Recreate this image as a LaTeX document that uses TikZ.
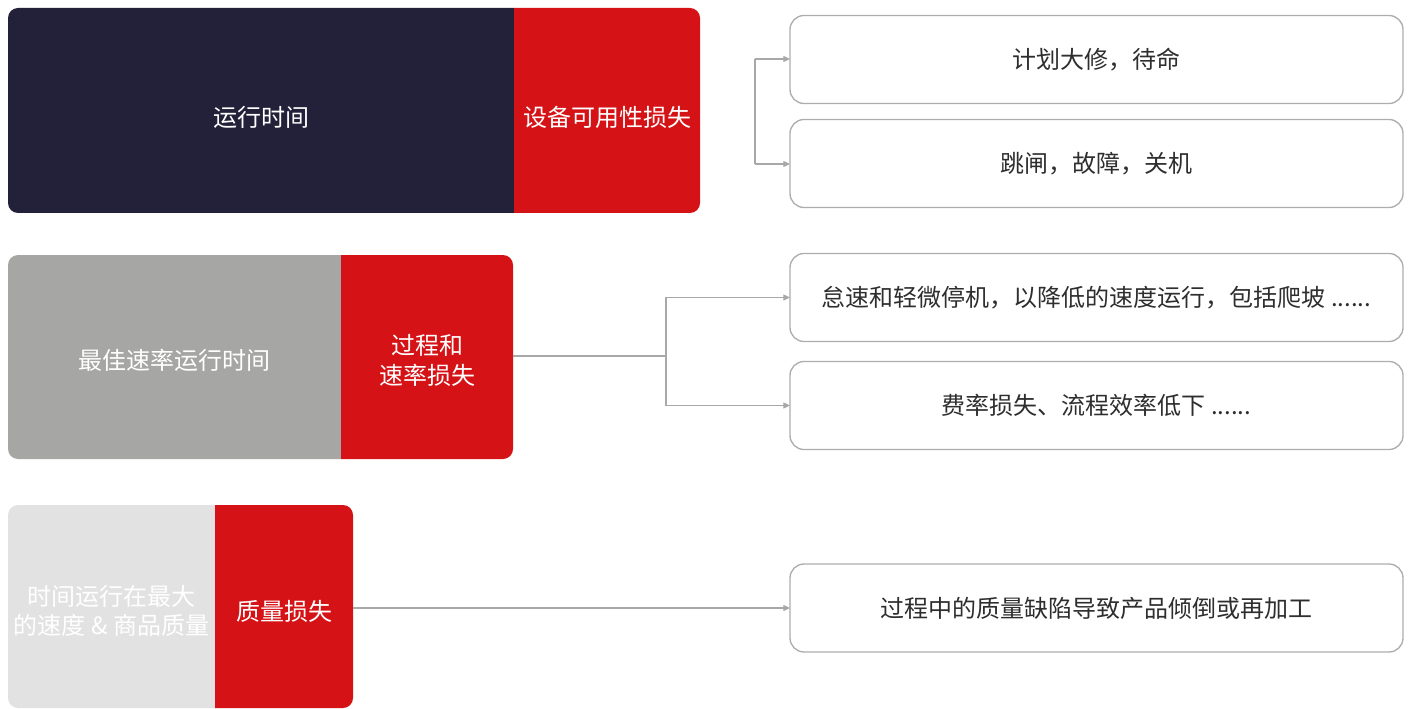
\documentclass[tikz,border=0pt]{standalone}
\usepackage{fontspec}
\setmainfont{Noto Sans CJK SC}
\usetikzlibrary{arrows.meta,calc}
\definecolor{darkbg}{HTML}{23203A}
\definecolor{lossred}{HTML}{D51317}
\definecolor{midgray}{HTML}{A6A6A5}
\definecolor{lightgray}{HTML}{E2E2E2}
\definecolor{boxline}{HTML}{ADADAD}
\definecolor{conncol}{HTML}{A8A8A8}
\definecolor{txt}{HTML}{2E2E2E}
\tikzset{
  lbl/.style={inner sep=0pt, outer sep=0pt, align=center, text=white,
    font=\fontsize{18}{22}\selectfont},
  item/.style={draw=boxline, line width=1pt, rounded corners=10.5pt, fill=white,
    minimum width=459.75pt, minimum height=66pt, inner sep=0pt, outer sep=0pt,
    text=txt, font=\fontsize{18}{22}\selectfont},
  conn/.style={draw=conncol, line width=0.9pt},
  arrow/.style={conn, -{Triangle[length=5pt,width=4.5pt]}},
}
\begin{document}
\begin{tikzpicture}[x=0.75pt,y=-0.75pt]
\useasboundingbox (0,0) rectangle (1412,709);
% ---------- row 1 ----------
\fill[darkbg] (514,213) -- (514,8) [rounded corners=7.5pt] -- (8,8) -- (8,213) [sharp corners] -- cycle;
\fill[lossred] (514,8) [rounded corners=7.5pt] -- (700,8) -- (700,213) [sharp corners] -- (514,213) -- cycle;
\node[lbl, minimum width=379.5pt, minimum height=153.75pt] (run1) at (261,117.5) {运行时间};
\node[lbl, minimum width=139.5pt, minimum height=153.75pt] (loss1) at (607,117.5) {设备可用性损失};
% ---------- row 2 ----------
\fill[midgray] (341,459) -- (341,255) [rounded corners=7.5pt] -- (8,255) -- (8,459) [sharp corners] -- cycle;
\fill[lossred] (341,255) [rounded corners=7.5pt] -- (513,255) -- (513,459) [sharp corners] -- (341,459) -- cycle;
\node[lbl, minimum width=249.75pt, minimum height=153pt] (run2) at (174.5,360.5) {最佳速率运行时间};
\node[lbl, minimum width=129pt, minimum height=153pt] (loss2) at (427,360.5) {过程和\\速率损失};
% ---------- row 3 ----------
\fill[lightgray] (215,708) -- (215,505) [rounded corners=7.5pt] -- (8,505) -- (8,708) [sharp corners] -- cycle;
\fill[lossred] (215,505) [rounded corners=7.5pt] -- (353,505) -- (353,708) [sharp corners] -- (215,708) -- cycle;
\node[lbl, minimum width=155.25pt, minimum height=152.25pt] (run3) at (111.5,611) {时间运行在最大\\的速度 \& 商品质量};
\node[lbl, minimum width=103.5pt, minimum height=152.25pt] (loss3) at (284,611) {质量损失};
% ---------- right boxes ----------
\node[item] (a) at (1096.5,59.5) {计划大修，待命};
\node[item] (b) at (1096.5,163.5) {跳闸，故障，关机};
\node[item] (c) at (1096.5,297.5) {怠速和轻微停机，以降低的速度运行，包括爬坡 ......};
\node[item] (d) at (1096.5,405.5) {费率损失、流程效率低下 ......};
\node[item] (e) at (1096.5,608) {过程中的质量缺陷导致产品倾倒或再加工};
% ---------- connectors ----------
\coordinate (k1) at (755,59);
\coordinate (k2) at (755,164);
\draw[conn] (k1) -- (k2);
\draw[arrow] (k1) -- (k1 -| a.west);
\draw[arrow] (k2) -- (k2 -| b.west);
\coordinate (j2) at (666,356);
\draw[conn] (loss2.east |- j2) -- (j2);
\draw[arrow] (j2) |- (c.west);
\draw[arrow] (j2) |- (d.west);
\draw[arrow] (loss3.east |- e.west) -- (e.west);
\end{tikzpicture}
\end{document}
